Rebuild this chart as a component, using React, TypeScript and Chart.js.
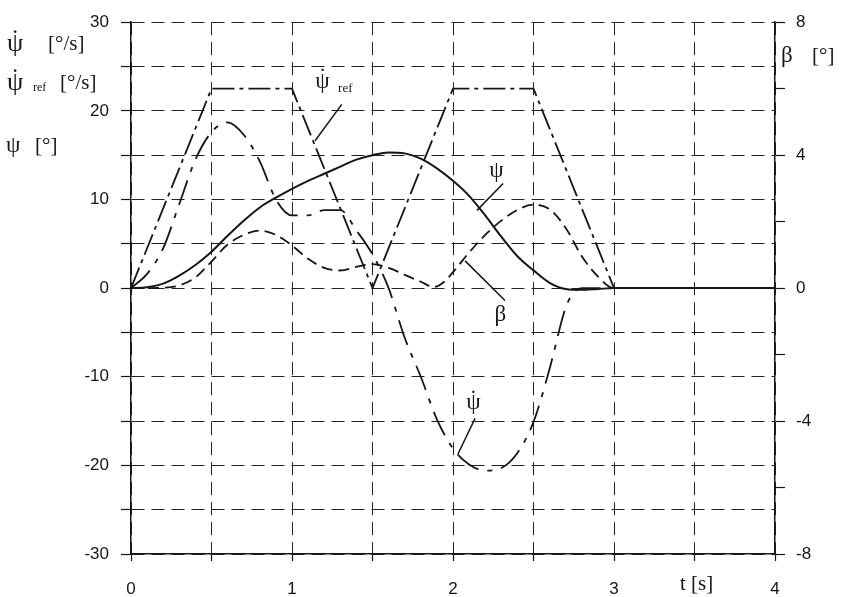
import React, { useEffect, useRef } from 'react';
import { Chart, registerables } from 'chart.js';

Chart.register(...registerables);

// ---- data ----
const T_REF = [0, 0.5, 1.0, 1.5, 2.0, 2.5, 3.0, 4.0];
const PSI_REF = [0, 22.5, 22.5, 0, 22.5, 22.5, 0, 0];

const T_PSI = [0, 0.1, 0.2, 0.3, 0.4, 0.5, 0.6, 0.7, 0.8, 0.9, 1.0, 1.1, 1.2, 1.3, 1.4, 1.5, 1.6, 1.7, 1.8, 1.9, 2.0, 2.1, 2.2, 2.3, 2.4, 2.5, 2.6, 2.7, 2.8, 2.9, 3.0, 4.0];
const PSI = [0, 0.1, 0.5, 1.4, 2.6, 4.1, 5.9, 7.6, 9.1, 10.2, 11.2, 12.1, 12.9, 13.7, 14.5, 15.0, 15.3, 15.2, 14.6, 13.5, 12.1, 10.4, 8.2, 5.8, 3.6, 2.0, 0.6, -0.1, -0.2, -0.1, 0, 0];

const T_PSIDOT = [0, 0.1, 0.2, 0.3, 0.4, 0.5, 0.6, 0.7, 0.8, 0.9, 1.0, 1.1, 1.2, 1.3, 1.4, 1.5, 1.6, 1.7, 1.8, 1.9, 2.0, 2.1, 2.2, 2.3, 2.4, 2.5, 2.6, 2.7, 2.75, 2.8, 3.0, 4.0];
const PSIDOT = [0, 1.6, 4.5, 9.5, 14.5, 17.6, 18.7, 17.3, 14.3, 10.0, 8.2, 8.2, 8.8, 8.8, 6.5, 3.8, 0, -5.6, -10.0, -14.8, -18.1, -19.9, -20.6, -20.3, -18.6, -15.1, -9.1, -2.2, -0.5, 0, 0, 0];

const T_BETA = [0, 0.2, 0.3, 0.4, 0.5, 0.6, 0.7, 0.8, 0.9, 1.0, 1.1, 1.2, 1.3, 1.4, 1.5, 1.6, 1.7, 1.8, 1.88, 1.95, 2.0, 2.1, 2.2, 2.3, 2.4, 2.5, 2.6, 2.7, 2.8, 2.9, 3.0, 4.0];
const BETA = [0, 0.01, 0.08, 0.32, 0.8, 1.31, 1.6, 1.73, 1.6, 1.28, 0.88, 0.61, 0.53, 0.64, 0.72, 0.61, 0.4, 0.19, 0.03, 0.21, 0.48, 1.07, 1.6, 2.03, 2.35, 2.51, 2.37, 1.81, 0.96, 0.35, 0, 0];

const X_TICK_LABELS = ['0', '1', '2', '3', '4'];
const LEFT_TICK_LABELS = ['-30', '-20', '-10', '0', '10', '20', '30'];
const RIGHT_TICK_LABELS = ['-8', '-4', '0', '4', '8'];

// annotation labels (data units on t / left axis)
const ANNOT_TEXTS = [
  { glyph: 'ψ', dot: true, sub: 'ref', t: 1.145, v: 22.6, subT: 1.286, subV: 22.07 },
  { glyph: 'ψ', dot: false, sub: '', t: 2.225, v: 12.57, subT: 0, subV: 0 },
  { glyph: 'β', dot: false, sub: '', t: 2.258, v: -3.74, subT: 0, subV: 0 },
  { glyph: 'ψ', dot: true, sub: '', t: 2.082, v: -13.69, subT: 0, subV: 0 },
];
const ANNOT_LINES = [
  [[1.309, 20.73], [1.143, 16.63]],
  [[2.311, 11.79], [2.149, 8.77]],
  [[2.075, 3.07], [2.323, -1.4]],
  [[2.137, -14.69], [2.031, -18.72]],
];

const INK = '#161616';
const SERIF = '"Liberation Serif", "DejaVu Serif", serif';
const SANS = '"Liberation Sans", Arial, sans-serif';

function pts(ts: number[], vs: number[]) {
  return ts.map((t, i) => ({ x: t, y: vs[i] }));
}

function drawGlyph(ctx: CanvasRenderingContext2D, glyph: string, x: number, y: number, size: number, dot: boolean) {
  ctx.font = `${size}px ${SERIF}`;
  ctx.textAlign = 'left';
  ctx.textBaseline = 'alphabetic';
  ctx.fillText(glyph, x, y);
  if (dot) {
    const w = ctx.measureText(glyph).width;
    ctx.textAlign = 'center';
    ctx.fillText('\u02D9', x + w / 2, y - size * 0.16);
    ctx.textAlign = 'left';
  }
}

const textPlugin = {
  id: 'textPlugin',
  afterDraw(chart: any) {
    const ctx: CanvasRenderingContext2D = chart.ctx;
    const xs = chart.scales.x;
    const ys = chart.scales.y;
    ctx.save();
    ctx.fillStyle = INK;
    ctx.strokeStyle = INK;
    ctx.lineWidth = 1.5;
    ctx.setLineDash([]);
    for (const ln of ANNOT_LINES) {
      ctx.beginPath();
      ctx.moveTo(xs.getPixelForValue(ln[0][0]), ys.getPixelForValue(ln[0][1]));
      ctx.lineTo(xs.getPixelForValue(ln[1][0]), ys.getPixelForValue(ln[1][1]));
      ctx.stroke();
    }
    for (const a of ANNOT_TEXTS) {
      drawGlyph(ctx, a.glyph, xs.getPixelForValue(a.t), ys.getPixelForValue(a.v), 23, a.dot);
      if (a.sub) {
        ctx.font = `13px ${SERIF}`;
        ctx.textAlign = 'left';
        ctx.fillText(a.sub, xs.getPixelForValue(a.subT), ys.getPixelForValue(a.subV));
      }
    }
    // axis titles (left)
    drawGlyph(ctx, 'ψ', 7, 51, 26, true);
    ctx.font = `21px ${SERIF}`;
    ctx.fillText('[°/s]', 48, 50);
    drawGlyph(ctx, 'ψ', 7, 90, 26, true);
    ctx.font = `12px ${SERIF}`;
    ctx.fillText('ref', 33, 91);
    ctx.font = `21px ${SERIF}`;
    ctx.fillText('[°/s]', 60, 89);
    drawGlyph(ctx, 'ψ', 6, 152, 23, false);
    ctx.font = `21px ${SERIF}`;
    ctx.fillText('[°]', 35, 152);
    // right title
    drawGlyph(ctx, 'β', 781, 62, 23, false);
    ctx.font = `21px ${SERIF}`;
    ctx.fillText('[°]', 812, 62);
    // x title
    ctx.font = `21px ${SERIF}`;
    ctx.fillText('t [s]', 680, 590);
    ctx.restore();
  },
};

export default function App() {
  const ref = useRef<HTMLCanvasElement | null>(null);
  useEffect(() => {
    if (!ref.current) return;
    const tickFont = { family: SANS, size: 17 };
    const chart = new Chart(ref.current, {
      type: 'line',
      data: {
        datasets: [
          {
            label: 'psi_ref',
            data: pts(T_REF, PSI_REF),
            borderColor: INK,
            borderWidth: 1.8,
            borderDash: [22, 5, 4, 5],
            pointRadius: 0,
            tension: 0,
            yAxisID: 'y',
          },
          {
            label: 'psi_dot',
            data: pts(T_PSIDOT, PSIDOT),
            borderColor: INK,
            borderWidth: 1.8,
            borderDash: [26, 9, 5, 9],
            pointRadius: 0,
            cubicInterpolationMode: 'monotone',
            yAxisID: 'y',
          },
          {
            label: 'beta',
            data: pts(T_BETA, BETA),
            borderColor: INK,
            borderWidth: 1.8,
            borderDash: [11, 6],
            pointRadius: 0,
            cubicInterpolationMode: 'monotone',
            yAxisID: 'y1',
          },
          {
            label: 'psi',
            data: pts(T_PSI, PSI),
            borderColor: INK,
            borderWidth: 2,
            pointRadius: 0,
            cubicInterpolationMode: 'monotone',
            yAxisID: 'y',
          },
        ],
      },
      options: {
        responsive: false,
        animation: false,
        devicePixelRatio: 1,
        layout: { padding: { top: 17, left: 0, right: 0, bottom: 0 } },
        plugins: { legend: { display: false }, tooltip: { enabled: false } },
        scales: {
          x: {
            type: 'linear',
            min: 0,
            max: 4,
            afterFit: (s: any) => { s.height = 43; },
            ticks: {
              stepSize: 0.5,
              autoSkip: false,
              maxRotation: 0,
              padding: 18,
              color: INK,
              font: tickFont,
              callback: (v: any) => (X_TICK_LABELS.includes(String(v)) ? String(v) : ''),
            },
            grid: { color: '#222', lineWidth: 1, tickLength: 7, tickColor: INK, tickWidth: 1.2 },
            border: { display: true, color: INK, width: 1.5, dash: [13, 7] },
          },
          y: {
            type: 'linear',
            position: 'left',
            min: -30,
            max: 30,
            afterFit: (s: any) => { s.width = 131; },
            ticks: {
              stepSize: 5,
              autoSkip: false,
              padding: 12,
              color: INK,
              font: tickFont,
              callback: (v: any) => (LEFT_TICK_LABELS.includes(String(v)) ? String(v) : ''),
            },
            grid: { color: '#222', lineWidth: 1, tickLength: 10, tickColor: INK, tickWidth: 1.2 },
            border: { display: true, color: INK, width: 1.5, dash: [13, 7] },
          },
          y1: {
            type: 'linear',
            position: 'right',
            min: -8,
            max: 8,
            afterFit: (s: any) => { s.width = 67; },
            ticks: {
              stepSize: 2,
              autoSkip: false,
              padding: 11,
              color: INK,
              font: tickFont,
              callback: (v: any) => (RIGHT_TICK_LABELS.includes(String(v)) ? String(v) : ''),
            },
            grid: { drawOnChartArea: false, tickLength: 10, tickColor: INK, tickWidth: 1.2 },
            border: { display: true, color: INK, width: 1.5 },
          },
        },
      },
      plugins: [textPlugin],
    } as any);
    return () => chart.destroy();
  }, []);
  return (
    <div style={{ position: 'absolute', left: 0, top: 0, width: 842, height: 597, background: '#fff' }}>
      <canvas ref={ref} width={842} height={597} style={{ display: 'block' }} />
    </div>
  );
}
